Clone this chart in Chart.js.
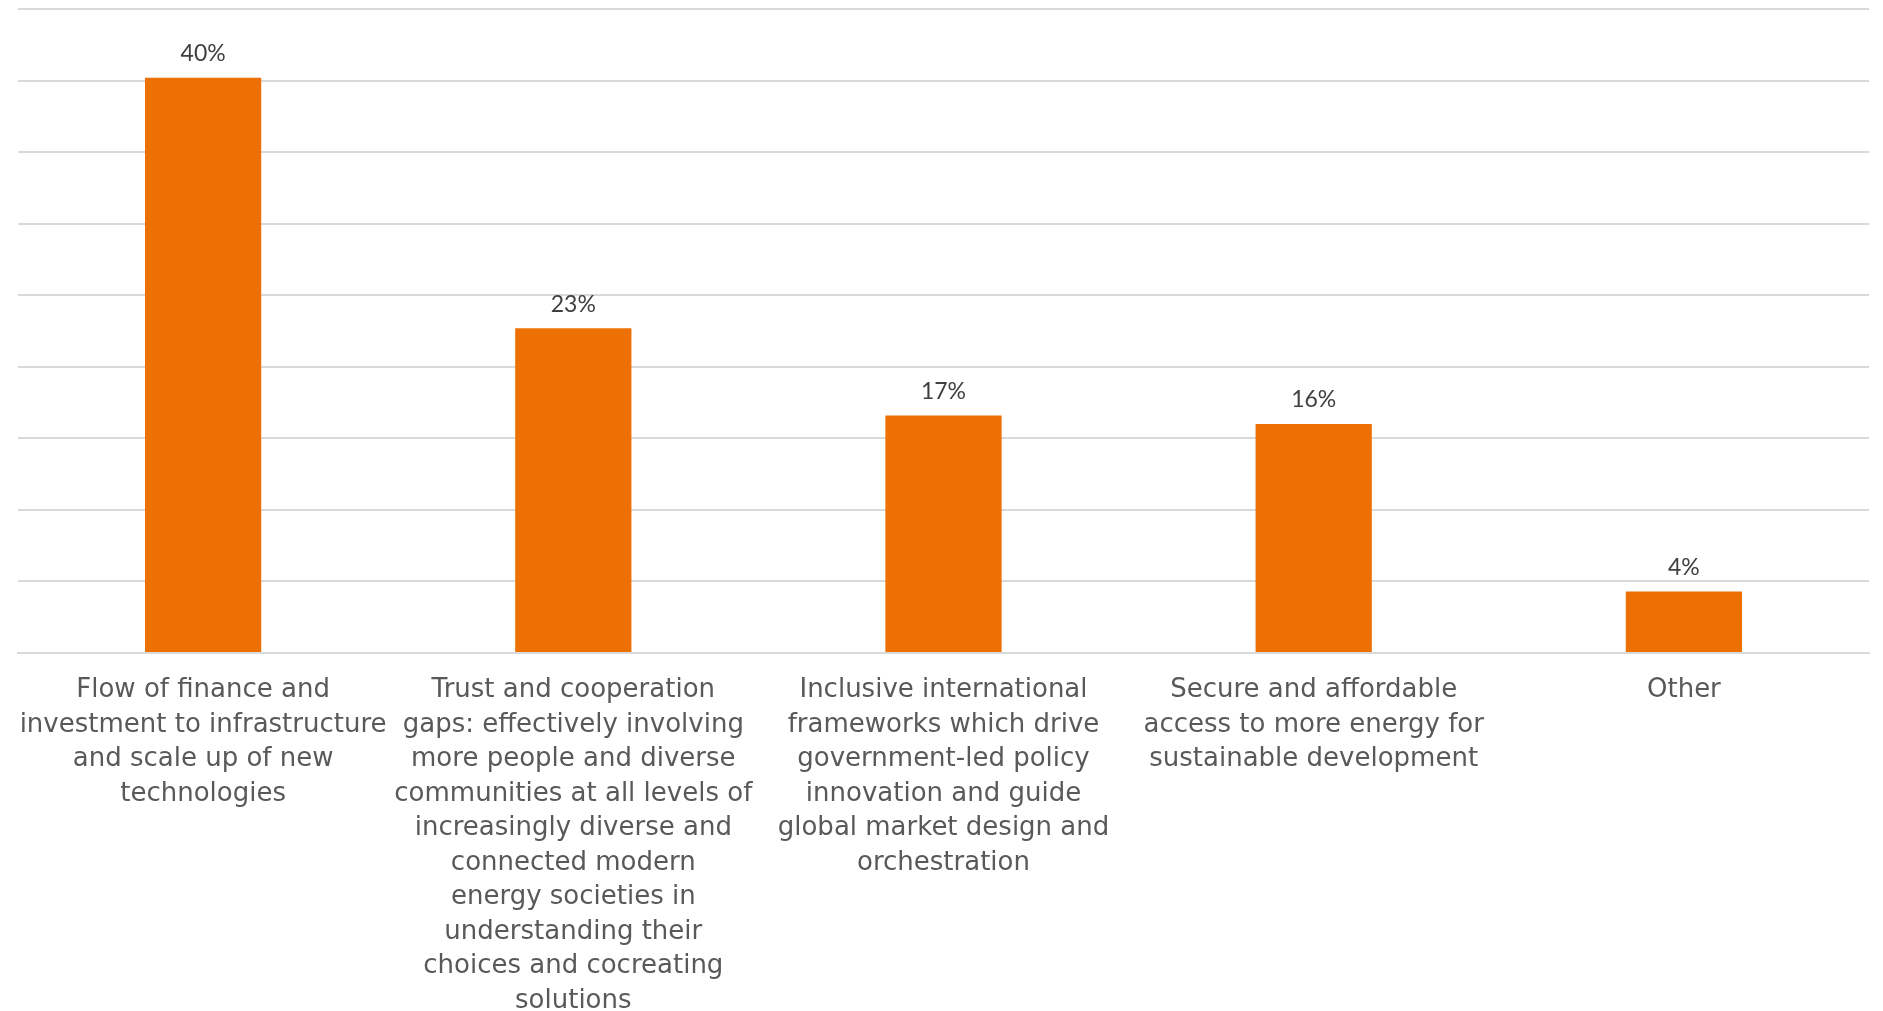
<!DOCTYPE html>
<html>
<head>
<meta charset="utf-8">
<script src="https://cdn.jsdelivr.net/npm/chart.js@4/dist/chart.umd.min.js"></script>
<style>
  html, body { margin: 0; padding: 0; background: #fff; }
  #wrap { width: 1883px; height: 1011px; }
</style>
</head>
<body>
<div id="wrap"><canvas id="barChart"></canvas></div>
<script>
// catégories (déjà découpées en lignes comme sur l'image)
const categories = [
    ["Flow of finance and", "investment to infrastructure", "and scale up of new", "technologies"],
    ["Trust and cooperation", "gaps: effectively involving", "more people and diverse", "communities at all levels of",
     "increasingly diverse and", "connected modern", "energy societies in", "understanding their",
     "choices and cocreating", "solutions"],
    ["Inclusive international", "frameworks which drive", "government-led policy", "innovation and guide",
     "global market design and", "orchestration"],
    ["Secure and affordable", "access to more energy for", "sustainable development"],
    ["Other"]
];
const values = [40.2, 22.7, 16.6, 16.0, 4.3];
const valueLabels = ["40%", "23%", "17%", "16%", "4%"];

const labelFont = "Lato, 'Noto Sans', sans-serif";
const axisFont = "'DejaVu Sans', sans-serif";

// plugin pour afficher les valeurs au-dessus des barres
const barLabels = {
    id: 'barLabels',
    afterDatasetsDraw(chart) {
        const ctx = chart.ctx;
        const meta = chart.getDatasetMeta(0);
        ctx.save();
        ctx.font = "23px " + labelFont;
        ctx.fillStyle = "#404040";
        ctx.textAlign = "center";
        ctx.textBaseline = "middle";
        meta.data.forEach((bar, i) => {
            ctx.fillText(valueLabels[i], bar.x, bar.y - 24);
        });
        ctx.restore();
    }
};

window.addEventListener("load", (event) => {
    const ctx = document.getElementById("barChart").getContext('2d');
    const myBarChart = new Chart(ctx, {
        type: 'bar',
        data: {
            labels: categories,
            datasets: [{
                data: values,
                backgroundColor: "#ED7004",
                borderWidth: 0,
                categoryPercentage: 1,
                barPercentage: 0.314
            }]
        },
        options: {
            responsive: true,
            maintainAspectRatio: false,
            animation: false,
            layout: { padding: { top: 9, left: 18, right: 14, bottom: 0 } },
            plugins: {
                legend: { display: false },
                tooltip: { enabled: false }
            },
            scales: {
                x: {
                    grid: { display: false },
                    border: { display: true, color: "#d9d9d9", width: 2 },
                    ticks: {
                        autoSkip: false,
                        maxRotation: 0,
                        padding: 12,
                        color: "#595959",
                        font: { family: axisFont, size: 26, lineHeight: 1.327 }
                    },
                    afterFit(scale) { scale.height = 358; }
                },
                y: {
                    min: 0,
                    max: 45,
                    ticks: { display: false, stepSize: 5 },
                    border: { display: false },
                    grid: { color: "#d9d9d9", lineWidth: 2, drawTicks: false },
                    afterFit(scale) { scale.width = 0; }
                }
            }
        },
        plugins: [barLabels]
    });
});
</script>
</body>
</html>
